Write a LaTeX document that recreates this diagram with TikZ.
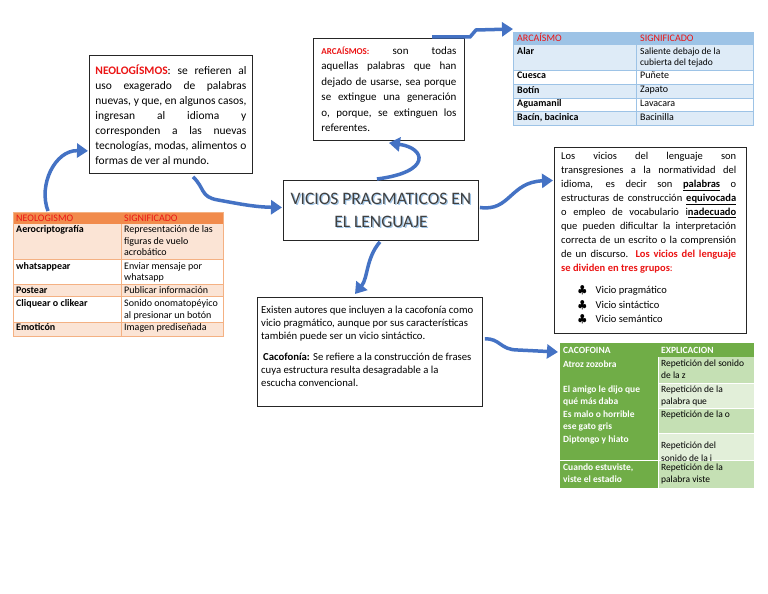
\documentclass[tikz,border=0pt]{standalone}
\usepackage{fontspec}
\setmainfont{Carlito}
\usetikzlibrary{arrows.meta,calc,positioning}
\definecolor{arrowblue}{RGB}{68,114,196}
\definecolor{hdrblue}{RGB}{157,195,230}
\definecolor{rowblue}{RGB}{222,235,247}
\definecolor{hdrorange}{RGB}{241,139,76}
\definecolor{roworange}{RGB}{251,228,213}
\definecolor{lineorange}{RGB}{244,177,131}
\definecolor{darkgreen}{RGB}{112,173,71}
\definecolor{rowgreen}{RGB}{197,224,180}
\definecolor{palegreen}{RGB}{226,239,217}
\definecolor{redtext}{RGB}{235,20,20}
\definecolor{titlegray}{RGB}{64,64,64}
\tolerance=10000
\hyphenpenalty=10000
\hbadness=10000

\tikzset{
  textbox/.style={draw=black!85, line width=0.9pt, fill=white, anchor=north west},
  tabframe/.style={draw=#1, line width=0.6pt, anchor=north west, inner sep=0pt},
  cell/.style={anchor=north west, inner sep=0pt, align=left, font=\fontsize{10}{11.5}\selectfont},
  headcell/.style={anchor=base west, inner sep=0pt, font=\fontsize{10}{11.5}\selectfont},
  bluearrow/.style={draw=arrowblue, line width=3.5pt, -{Triangle[length=11pt,width=14pt]}},
}

\begin{document}
\begin{tikzpicture}[x=1pt, y=-1pt]
    \useasboundingbox (0,0) rectangle (768,594);
    \fill[white] (0,0) rectangle (768,594);

    % Text boxes
    \node[textbox, inner xsep=6pt, text width=151pt, minimum height=118pt, align=justify,
          font=\fontsize{11.5}{15}\selectfont] (neo) at (89,55)
      {\textcolor{redtext}{\textbf{NEOLOGÍSMOS}}: se refieren al\linebreak
       uso exagerado de palabras\linebreak
       nuevas, y que, en algunos casos,\linebreak
       ingresan al idioma y\linebreak
       corresponden a las nuevas\linebreak
       tecnologías, modas, alimentos o\linebreak
       formas de ver al mundo.};

    \node[textbox, inner xsep=8pt, text width=135pt, minimum height=102pt, align=justify,
          font=\fontsize{11}{15.5}\selectfont] (arca) at (313,38)
      {\textcolor{redtext}{\fontsize{9}{10}\selectfont\textbf{ARCAÍSMOS:}} son todas\linebreak
       aquellas palabras que han\linebreak
       dejado de usarse, sea porque\linebreak
       se extingue una generación\linebreak
       o, porque, se extinguen los\linebreak
       referentes.};

    % Title
    \node[textbox, minimum width=195pt, minimum height=60pt] (title) at (283,180) {};
    \node[align=center, text=hdrblue, font=\fontsize{17.5}{23}\selectfont] (titleshadow)
      at ($(title.center)+(1.3,1.3)$) {VICIOS PRAGMATICOS EN\\EL LENGUAJE};
    \node[align=center, text=titlegray, font=\fontsize{17.5}{23}\selectfont] (titletext)
      at (title.center) {VICIOS PRAGMATICOS EN\\EL LENGUAJE};

    % Vicios box
    \node[textbox, minimum width=192pt, minimum height=186pt] (vicios) at (554,147) {};
    \node[anchor=north west, inner sep=0pt, text width=175pt, align=justify,
          font=\fontsize{10.5}{14}\selectfont] (viciostext) at (561,152)
      {Los vicios del lenguaje son\linebreak
       transgresiones a la normatividad del\linebreak
       idioma, es decir son \underline{\textbf{palabras}} o\linebreak
       estructuras de construcción \underline{\textbf{equivocada}}\linebreak
       o empleo de vocabulario i\underline{\textbf{nadecuado}}\linebreak
       que pueden dificultar la interpretación\linebreak
       correcta de un escrito o la comprensión\linebreak
       de un discurso. \textcolor{redtext}{\textbf{Los vicios del lenguaje}}\linebreak
       \textcolor{redtext}{\textbf{se dividen en tres grupos}:}};
    \node[anchor=north west, inner sep=0pt, align=left,
          font=\fontsize{10.5}{14.5}\selectfont] (grupos) at (578,286)
      {$\clubsuit$\hspace{9pt}Vicio pragmático\\
       $\clubsuit$\hspace{9pt}Vicio sintáctico\\
       $\clubsuit$\hspace{9pt}Vicio semántico};

    % Cacofonia box
    \node[textbox, minimum width=225pt, minimum height=109pt] (cacobox) at (257,297) {};
    \node[anchor=north west, inner sep=0pt, align=left,
          font=\fontsize{10.7}{13}\selectfont] (cacotext) at (261,305.5)
      {Existen autores que incluyen a la cacofonía como\\
       vicio pragmático, aunque por sus características\\
       también puede ser un vicio sintáctico.\\[8pt]
       \hspace*{2pt}\textbf{Cacofonía:} Se refiere a la construcción de frases\\
       cuya estructura resulta desagradable a la\\
       escucha convencional.};

    % Arcaismo table
    \fill[hdrblue] (513,32) rectangle (753,45);
    \fill[rowblue] (513,45) rectangle (753,70);
    \fill[rowblue] (513,84) rectangle (753,98);
    \fill[rowblue] (513,111) rectangle (753,125);
    \draw[hdrblue, line width=0.6pt] (513,70) -- (753,70) (513,84) -- (753,84)
      (513,98) -- (753,98) (513,111) -- (753,111) (636,45) -- (636,125);
    \node[tabframe=hdrblue, minimum width=240pt, minimum height=93pt] (arcatab) at (513,32) {};
    \node[headcell, text=redtext] (arcah1) at (517,42) {ARCAÍSMO};
    \node[headcell, text=redtext] (arcah2) at (640,42) {SIGNIFICADO};
    \node[cell, font=\fontsize{10}{11.5}\bfseries] (alar) at (517,47.5) {Alar};
    \node[cell, font=\fontsize{9.5}{11.6}\selectfont] (alarsig) at (640,47.5) {Saliente debajo de la\\cubierta del tejado};
    \node[cell, font=\fontsize{10}{11.5}\bfseries] (cuesca) at (517,72) {Cuesca};
    \node[cell] (cuescasig) at (640,72) {Puñete};
    \node[cell, font=\fontsize{10}{11.5}\bfseries] (botin) at (517,86) {Botín};
    \node[cell] (botinsig) at (640,86) {Zapato};
    \node[cell, font=\fontsize{10}{11.5}\bfseries] (aguamanil) at (517,99.5) {Aguamanil};
    \node[cell] (aguamanilsig) at (640,99.5) {Lavacara};
    \node[cell, font=\fontsize{10}{11.5}\bfseries] (bacin) at (517,113) {Bacín, bacinica};
    \node[cell] (bacinsig) at (640,113) {Bacinilla};

    % Neologismo table
    \fill[hdrorange] (13,212) rectangle (223,224);
    \fill[roworange] (13,224) rectangle (223,259);
    \fill[roworange] (13,284) rectangle (223,296);
    \fill[roworange] (13,322) rectangle (223,336);
    \draw[lineorange, line width=0.6pt] (13,259) -- (223,259) (13,284) -- (223,284)
      (13,296) -- (223,296) (13,322) -- (223,322) (121,224) -- (121,336);
    \node[tabframe=lineorange, minimum width=210pt, minimum height=124pt] (neotab) at (13,212) {};
    \node[headcell, text=redtext] (neoh1) at (16,221.5) {NEOLOGISMO};
    \node[headcell, text=redtext] (neoh2) at (124,221.5) {SIGNIFICADO};
    \node[cell, font=\fontsize{10}{11.5}\bfseries] (aero) at (16,225.5) {Aerocriptografía};
    \node[cell] (aerosig) at (124,225.5) {Representación de las\\figuras de vuelo\\acrobático};
    \node[cell, font=\fontsize{10}{11.5}\bfseries] (whats) at (16,262) {whatsappear};
    \node[cell] (whatssig) at (124,262) {Enviar mensaje por\\whatsapp};
    \node[cell, font=\fontsize{10}{11.5}\bfseries] (postear) at (16,286.5) {Postear};
    \node[cell] (postearsig) at (124,286.5) {Publicar información};
    \node[cell, font=\fontsize{10}{11.5}\bfseries] (cliquear) at (16,299.5) {Cliquear o clikear};
    \node[cell] (cliquearsig) at (124,299.5) {Sonido onomatopéyico\\al presionar un botón};
    \node[cell, font=\fontsize{10}{11.5}\bfseries] (emoticon) at (16,323.5) {Emoticón};
    \node[cell] (emoticonsig) at (124,323.5) {Imagen prediseñada};

    % Cacofonia table
    \fill[darkgreen] (560,343) rectangle (754,357);
    \fill[darkgreen] (560,357) rectangle (658,488);
    \fill[rowgreen] (658,357) rectangle (754,383);
    \fill[palegreen] (658,383) rectangle (754,408);
    \fill[rowgreen] (658,408) rectangle (754,433);
    \fill[palegreen] (658,433) rectangle (754,460);
    \fill[rowgreen] (658,460) rectangle (754,488);
    \draw[white, line width=1pt] (658,357) -- (658,488) (658,383) -- (754,383)
      (658,408) -- (754,408) (658,433) -- (754,433) (560,460) -- (754,460);
    \node[tabframe=darkgreen, minimum width=194pt, minimum height=145pt, draw=none] (cacotab) at (560,343) {};
    \node[headcell, text=white, font=\fontsize{9.5}{12.5}\bfseries] (cacoh1) at (563,353.5) {CACOFOINA};
    \node[headcell, text=white, font=\fontsize{9.5}{12.5}\bfseries] (cacoh2) at (661,353.5) {EXPLICACION};
    \node[cell, text=white, font=\fontsize{9.5}{12.5}\bfseries] (atroz) at (563,360.5) {Atroz zozobra};
    \node[cell, font=\fontsize{9.5}{12.5}\selectfont] (atrozsig) at (661,359.5) {Repetición del sonido\\de la z};
    \node[cell, text=white, font=\fontsize{9.5}{12.5}\bfseries] (amigo) at (563,385.5) {El amigo le dijo que\\qué más daba};
    \node[cell, font=\fontsize{9.5}{12.5}\selectfont] (amigosig) at (661,385.5) {Repetición de la\\palabra que};
    \node[cell, text=white, font=\fontsize{9.5}{12.5}\bfseries] (malo) at (563,410.5) {Es malo o horrible\\ese gato gris};
    \node[cell, font=\fontsize{9.5}{12.5}\selectfont] (malosig) at (661,410.5) {Repetición de la o};
    \node[cell, text=white, font=\fontsize{9.5}{12.5}\bfseries] (diptongo) at (563,435.5) {Diptongo y hiato};
    \node[cell, font=\fontsize{9.5}{12.5}\selectfont] (diptongosig) at (661,442) {Repetición del\\sonido de la i};
    \node[cell, text=white, font=\fontsize{9.5}{12.5}\bfseries] (cuando) at (563,463.5) {Cuando estuviste,\\viste el estadio};
    \node[cell, font=\fontsize{9.5}{12.5}\selectfont] (cuandosig) at (661,463.5) {Repetición de la\\palabra viste};

    % Arrows
    \draw[bluearrow] ($(neotab.north west)+(35,-1)$) .. controls (38,185) and (55,150) .. ($(neo.south west)+(-1,-23)$);
    \draw[bluearrow] ($(neo.south west)+(104,3)$) .. controls (205,188) and (200,197) .. (218,200)
      .. controls (240,204) and (255,207) .. ($(title.west)+(-1,-3)$);
    \draw[bluearrow] ($(arca.north west)+(119,-1)$) -- (470,37) -- (476,30) -- ($(arcatab.north west)+(0,-3)$);
    \draw[bluearrow] ($(title.north)+(-4,-1)$) .. controls (432,172) and (426,148) .. ($(arca.south)+(0,2)$);
    \draw[bluearrow] ($(title.south)+(-1,1)$) .. controls (366,258) and (368,278) .. ($(cacobox.north west)+(98,-3)$);
    \draw[bluearrow] ($(title.east)+(1,-3)$) .. controls (510,212) and (510,182) .. ($(vicios.west)+(-1,-60)$);
    \draw[bluearrow] ($(cacobox.east)+(2,-13)$) .. controls (500,338) and (500,350) .. (518,350)
      -- ($(cacotab.north west)+(-2,9)$);
\end{tikzpicture}
\end{document}
